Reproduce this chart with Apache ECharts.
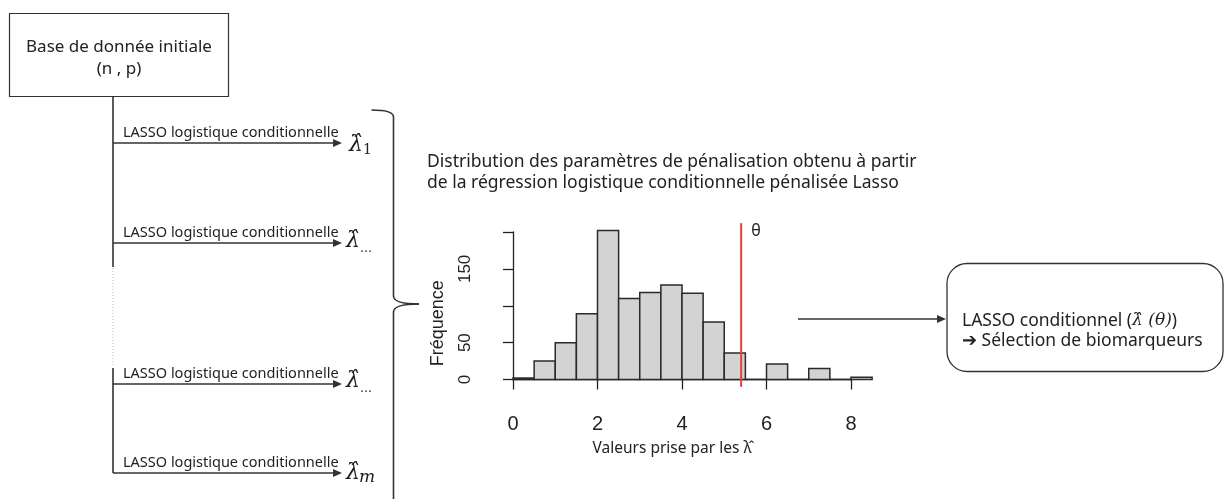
<!DOCTYPE html>
<html><head><meta charset="utf-8">
<script src="https://cdn.jsdelivr.net/npm/echarts@6/dist/echarts.min.js"></script>
<style>html,body{margin:0;padding:0;background:#fff}#c{width:1225px;height:499px}</style>
</head><body><div id="c"></div>
<script>
// ---- data ----
const binStarts = [0, 0.5, 1, 1.5, 2, 2.5, 3, 3.5, 4, 4.5, 5, 5.5, 6, 6.5, 7, 7.5, 8];
const binWidth = 0.5;
const counts = [2, 25, 50, 89, 202, 110, 118, 128, 117, 78, 36, 0, 21, 0, 15, 0, 3];
const thetaValue = 5.4;
const thetaLineRange = [-10, 212];
const xTickLabels = ['0', '2', '4', '6', '8'];
const yTickLabels = ['0', '50', '150'];
const xAxisName = 'Valeurs prise par les \u03BB\u0302';
const yAxisName = 'Fréquence';
const titleLines = ['Distribution des paramètres de pénalisation obtenu à partir', 'de la régression logistique conditionnelle pénalisée Lasso'];
const baseBoxLines = ['Base de donnée initiale', '(n , p)'];
const arrowLabel = 'LASSO logistique conditionnelle';
const lambdaSubscripts = ['1', '\u2026', '\u2026', 'm'];
const resultLines = ['LASSO conditionnel (', '\u03BB\u0302 (\u03B8)', ')', '\u2794 Sélection de biomarqueurs'];

// ---- layout (diagram) ----
const SANS = '"Noto Sans", sans-serif';
const SERIF = '"DejaVu Serif", serif';
const INK = '#333';
const arrowYs = [143, 243, 384, 473];
const lambdaMid = [145, 241, 381, 473];

function arrow(x1, y, x2) {
  return [
    { type: 'line', shape: { x1: x1, y1: y, x2: x2 - 6, y2: y }, style: { stroke: INK, lineWidth: 1.6 } },
    { type: 'polygon', shape: { points: [[x2, y], [x2 - 9, y - 4], [x2 - 9, y + 4]] }, style: { fill: INK } }
  ];
}

const g = [];
// base box
g.push({ type: 'rect', shape: { x: 9.5, y: 13.5, width: 219, height: 83 }, style: { fill: '#fff', stroke: INK, lineWidth: 1.2 } });
g.push({ type: 'text', style: { text: baseBoxLines[0], x: 119, y: 47, align: 'center', verticalAlign: 'middle', fontSize: 17, fontFamily: SANS, fill: '#222' } });
g.push({ type: 'text', style: { text: baseBoxLines[1], x: 119, y: 69, align: 'center', verticalAlign: 'middle', fontSize: 17, fontFamily: SANS, fill: '#222' } });
// trunk
g.push({ type: 'line', shape: { x1: 113, y1: 97, x2: 113, y2: 267 }, style: { stroke: INK, lineWidth: 1.6 } });
g.push({ type: 'line', shape: { x1: 113, y1: 268, x2: 113, y2: 367 }, style: { stroke: '#bbb', lineWidth: 1, lineDash: [1, 2] } });
g.push({ type: 'line', shape: { x1: 113, y1: 368, x2: 113, y2: 473 }, style: { stroke: INK, lineWidth: 1.6 } });
arrowYs.forEach(function (y, i) {
  arrow(113, y, 342).forEach(function (e) { g.push(e); });
  g.push({ type: 'text', style: { text: arrowLabel, x: 123, y: y - 3, align: 'left', verticalAlign: 'bottom', fontSize: 14.5, fontFamily: SANS, fill: '#222' } });
  g.push({ type: 'text', style: { text: '\u03BB\u0302', x: i === 0 ? 349 : 346, y: lambdaMid[i], align: 'left', verticalAlign: 'middle', fontSize: 22, fontFamily: SERIF, fontStyle: 'italic', fill: '#222' } });
  const sub = lambdaSubscripts[i];
  if (sub === '\u2026') {
    g.push({ type: 'text', style: { text: sub, x: 360, y: lambdaMid[i] + 14, align: 'left', verticalAlign: 'bottom', fontSize: 12, fontFamily: SERIF, fill: '#222' } });
  } else {
    g.push({ type: 'text', style: { text: sub, x: i === 0 ? 363 : 359, y: lambdaMid[i] + 5, align: 'left', verticalAlign: 'middle', fontSize: sub === 'm' ? 17 : 14, fontFamily: SERIF, fontStyle: sub === 'm' ? 'italic' : 'normal', fill: '#222' } });
  }
});
// brace
const BR = { fill: 'none', stroke: INK, lineWidth: 1.6 };
g.push({ type: 'bezierCurve', shape: { x1: 371.5, y1: 110, cpx1: 393.5, cpy1: 110, x2: 393.5, y2: 117 }, style: BR });
g.push({ type: 'line', shape: { x1: 393.5, y1: 117, x2: 393.5, y2: 296 }, style: BR });
g.push({ type: 'bezierCurve', shape: { x1: 393.5, y1: 296, cpx1: 393.5, cpy1: 304, x2: 419, y2: 304 }, style: BR });
g.push({ type: 'bezierCurve', shape: { x1: 419, y1: 304, cpx1: 393.5, cpy1: 304, x2: 393.5, y2: 312 }, style: BR });
g.push({ type: 'line', shape: { x1: 393.5, y1: 312, x2: 393.5, y2: 499 }, style: BR });
// title
g.push({ type: 'text', style: { text: titleLines[0], x: 427, y: 162, align: 'left', verticalAlign: 'middle', fontSize: 17.5, fontFamily: SANS, fill: '#222' } });
g.push({ type: 'text', style: { text: titleLines[1], x: 427, y: 183, align: 'left', verticalAlign: 'middle', fontSize: 17.5, fontFamily: SANS, fill: '#222' } });
// arrow to result box
arrow(798, 319, 946).forEach(function (e) { g.push(e); });
g.push({ type: 'rect', shape: { x: 947, y: 263.5, width: 276, height: 108, r: 20 }, style: { fill: '#fff', stroke: INK, lineWidth: 1.3 } });
g.push({ type: 'text', style: {
  text: resultLines[0] + '{m|' + resultLines[1] + '}' + resultLines[2],
  x: 962, y: 321, align: 'left', verticalAlign: 'middle', fontSize: 17.5, fontFamily: SANS, fill: '#222',
  rich: { m: { fontFamily: SERIF, fontStyle: 'italic', fontSize: 17, fill: '#222' } }
} });
g.push({ type: 'text', style: { text: resultLines[3], x: 962, y: 341, align: 'left', verticalAlign: 'middle', fontSize: 17.5, fontFamily: SANS, fill: '#222' } });

// ---- chart ----
const chart = echarts.init(document.getElementById('c'), null, { renderer: 'canvas' });
const AX = '#222';
chart.setOption({
  animation: false,
  backgroundColor: '#fff',
  grid: { left: 513, top: 232, width: 338, height: 147.5 },
  xAxis: {
    type: 'value', min: 0, max: 8, interval: 2, offset: 7.5,
    splitLine: { show: false },
    axisLine: { show: true, lineStyle: { color: AX, width: 1.3 } },
    axisTick: { show: true, length: 10, lineStyle: { color: AX, width: 1.3 } },
    axisLabel: { margin: 27, fontSize: 20, fontFamily: '"Liberation Sans", Arial, sans-serif', color: '#222',
      formatter: function (v) { const s = String(v); return xTickLabels.indexOf(s) >= 0 ? s : ''; } },
    name: xAxisName, nameLocation: 'middle', nameGap: 54,
    nameTextStyle: { fontSize: 15.5, fontFamily: SANS, color: '#222', padding: [0, 20, 0, 0] }
  },
  yAxis: {
    type: 'value', min: 0, max: 200, interval: 50, offset: 15,
    splitLine: { show: false },
    axisLine: { show: true, lineStyle: { color: AX, width: 1.3 } },
    axisTick: { show: true, length: 10, lineStyle: { color: AX, width: 1.3 } },
    axisLabel: { rotate: 90, margin: 24, fontSize: 17, fontFamily: '"Liberation Sans", Arial, sans-serif', color: '#222',
      formatter: function (v) { const s = String(v); return yTickLabels.indexOf(s) >= 0 ? s : ''; } },
    name: yAxisName, nameLocation: 'middle', nameGap: 51,
    nameTextStyle: { fontSize: 18, fontFamily: '"Liberation Sans", Arial, sans-serif', color: '#222', padding: [0, 35, 0, 0] }
  },
  series: [
    {
      type: 'custom', clip: false, silent: true,
      data: binStarts.map(function (s, i) { return [s, counts[i]]; }),
      encode: { x: 0, y: 1 },
      renderItem: function (params, api) {
        const x0 = api.value(0), c = api.value(1);
        const p0 = api.coord([x0, 0]);
        const p1 = api.coord([x0 + binWidth, c]);
        return { type: 'rect', shape: { x: p0[0], y: p1[1], width: p1[0] - p0[0], height: p0[1] - p1[1] },
          style: { fill: '#d3d3d3', stroke: '#2a2a2a', lineWidth: 1.5 } };
      }
    },
    {
      type: 'line', clip: false, silent: true, symbol: 'none', z: 5,
      data: [[thetaValue, thetaLineRange[0]], [thetaValue, thetaLineRange[1]]],
      lineStyle: { color: '#f03c3c', width: 2 },
      endLabel: { show: true, formatter: '\u03B8', distance: 10, offset: [0, 8], fontSize: 16, fontFamily: SANS, color: '#222' }
    }
  ],
  graphic: g
});
</script>
</body></html>
